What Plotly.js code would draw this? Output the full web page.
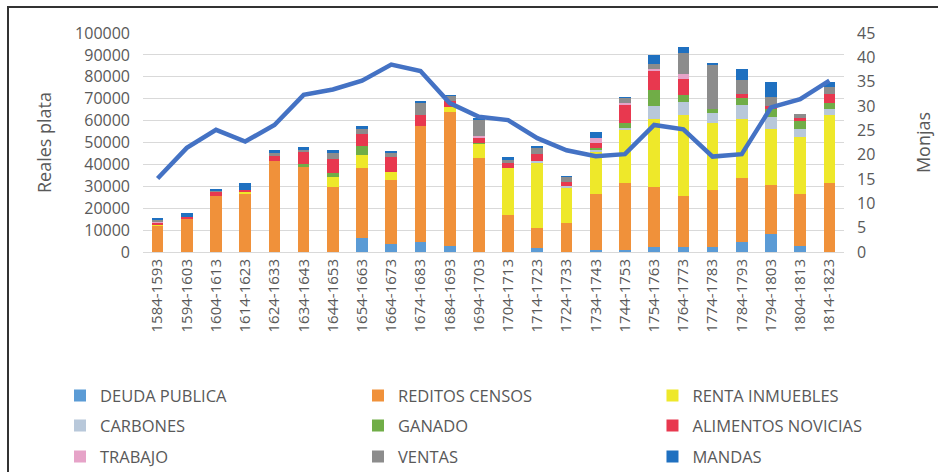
<!DOCTYPE html>
<html>
<head>
<meta charset="utf-8">
<script src="https://cdn.plot.ly/plotly-3.0.1.min.js"></script>
<style>
  html, body { margin: 0; padding: 0; background: #fff; }
  #wrap { position: relative; width: 938px; height: 472px; overflow: hidden; }
  #plot { width: 938px; height: 472px; }
  #frame { position: absolute; left: 7px; top: 6px; width: 940px; height: 480px;
           border-left: 2px solid #333; border-top: 2px solid #333; pointer-events: none; }
</style>
</head>
<body>
<div id="wrap"><div id="plot"></div><div id="frame"></div></div>
<script>
const periods = ["1584-1593","1594-1603","1604-1613","1614-1623","1624-1633","1634-1643","1644-1653","1654-1663",
  "1664-1673","1674-1683","1684-1693","1694-1703","1704-1713","1714-1723","1724-1733","1734-1743",
  "1744-1753","1754-1763","1764-1773","1774-1783","1784-1793","1794-1803","1804-1813","1814-1823"];

const deudaPublica   = [0,0,0,0,0,0,0,6600,3500,4700,2900,0,0,1700,0,800,900,2100,2100,2100,4700,8200,2900,0];
const reditosCensos  = [11900,15000,25650,26600,41700,38800,29600,31800,29500,52700,60900,42900,16800,9300,13300,25500,30800,27600,23400,26300,29000,22600,23400,31300];
const rentaInmuebles = [600,0,0,600,0,0,4600,5800,3400,0,2300,6400,21400,29800,15700,19400,24000,31100,37100,30400,27200,25500,26400,31300];
const carbones       = [0,0,0,0,0,0,0,0,0,0,0,0,0,600,1100,900,1100,5800,5800,4600,6300,5200,3500,2900];
const ganado         = [0,0,0,0,0,1200,1700,4400,0,0,0,500,0,0,0,900,2300,7500,3400,2100,3100,3700,3700,2700];
const alimentosNovicias = [600,1100,1800,1000,2300,5800,6600,5300,7000,5200,2700,2400,2300,3200,1800,2100,7800,8700,7200,0,1800,1500,1100,4100];
const trabajo        = [700,0,0,0,0,0,0,0,0,0,0,800,0,0,0,2600,1100,800,2400,0,0,0,0,0];
const ventas         = [600,0,300,0,1000,600,2700,2300,2000,5300,2300,7300,1400,3100,2300,0,2100,2300,9300,19800,6300,4100,1800,3100];
const mandas         = [1200,1800,1000,3400,1400,1700,1200,1200,500,1100,800,1100,1700,500,600,2400,800,4000,2700,1100,5200,6900,0,2300];
const monjas         = [15.1,21.4,25.1,22.7,26.1,32.3,33.4,35.2,38.5,37.2,30.6,27.8,27.1,23.4,20.9,19.7,20.1,26.1,25.2,19.6,20.1,29.7,31.4,35.2];

const seriesNames = ["DEUDA PUBLICA","REDITOS CENSOS","RENTA INMUEBLES","CARBONES","GANADO","ALIMENTOS NOVICIAS","TRABAJO","VENTAS","MANDAS"];
const seriesValues = [deudaPublica, reditosCensos, rentaInmuebles, carbones, ganado, alimentosNovicias, trabajo, ventas, mandas];
const seriesColors = ["#5B9BD5","#F0913A","#EEE82A","#B8C8DA","#70AD47","#E8384F","#E6A3C8","#8C8C8C","#1F70C0"];

const FONT = "Open Sans, Noto Sans, sans-serif";
const GREY = "#595959";

// legend grid: 3 columns x 3 rows, one legend per entry
const legendColX = [-0.1184, 0.3067, 0.7268];
const legendRowY = [-0.656, -0.793, -0.935];

const traces = seriesNames.map((n, i) => ({
  type: "bar", name: n, x: periods, y: seriesValues[i],
  marker: { color: seriesColors[i], line: { width: 0 } },
  legend: i === 0 ? "legend" : "legend" + (i + 1), hoverinfo: "skip"
}));
traces.push({
  type: "scatter", mode: "lines", name: "Monjas", x: periods, y: monjas, yaxis: "y2",
  line: { color: "#4472C4", width: 4.5 }, showlegend: false, hoverinfo: "skip"
});

const layout = {
  width: 938, height: 472,
  margin: { l: 143, r: 94, t: 33, b: 220, pad: 0, autoexpand: false },
  paper_bgcolor: "#ffffff", plot_bgcolor: "#ffffff",
  barmode: "stack", bargap: 0.6,
  font: { family: FONT, color: GREY },
  showlegend: true,
  xaxis: {
    type: "category", tickangle: -90, tickfont: { family: FONT, size: 15, color: GREY },
    showgrid: false, showline: true, linecolor: "#d9d9d9", linewidth: 1, ticks: "",
    automargin: false
  },
  yaxis: {
    range: [0, 100000], dtick: 10000, tickformat: "d", tickfont: { family: FONT, size: 16, color: GREY },
    gridcolor: "#d9d9d9", gridwidth: 1, zeroline: false, ticks: "", ticklabelstandoff: 12,
    title: { text: "Reales plata", font: { family: FONT, size: 18, color: GREY }, standoff: 18 },
    automargin: false, showline: false
  },
  yaxis2: {
    overlaying: "y", side: "right", range: [0, 45], dtick: 5,
    tickfont: { family: FONT, size: 16, color: GREY }, showgrid: false, zeroline: false, ticks: "",
    ticklabelstandoff: 12,
    title: { text: "Monjas", font: { family: FONT, size: 18, color: GREY }, standoff: 43 },
    automargin: false
  }
};

seriesNames.forEach((n, i) => {
  const key = i === 0 ? "legend" : "legend" + (i + 1);
  layout[key] = {
    orientation: "h", x: legendColX[i % 3], xanchor: "left",
    y: legendRowY[Math.floor(i / 3)], yanchor: "middle",
    font: { family: FONT, size: 16.5, color: GREY }, bgcolor: "rgba(0,0,0,0)"
  };
});

Plotly.newPlot("plot", traces, layout, { displayModeBar: false, staticPlot: true });
</script>
</body>
</html>
